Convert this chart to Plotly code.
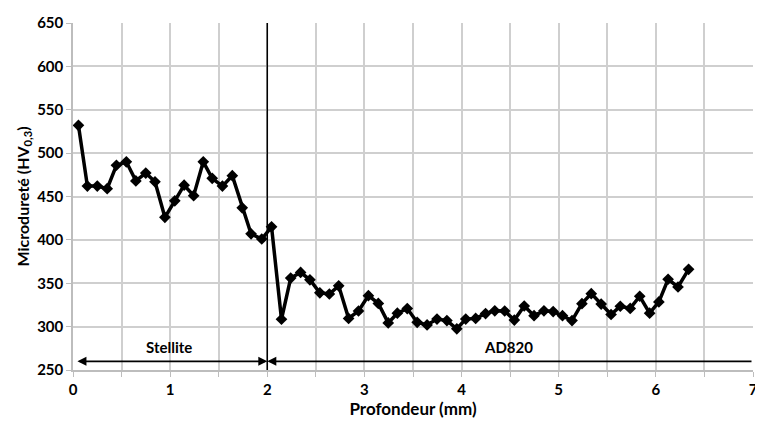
import plotly.graph_objects as go

# profondeur (mm) et microdureté HV0,3
profondeur = [0.056, 0.148, 0.25, 0.352, 0.447, 0.549, 0.647, 0.749, 0.844, 0.946,
              1.048, 1.144, 1.242, 1.341, 1.433, 1.538, 1.64, 1.742, 1.833, 1.943,
              2.044, 2.146, 2.241, 2.343, 2.439, 2.541, 2.639, 2.735, 2.837, 2.939,
              3.041, 3.143, 3.245, 3.339, 3.441, 3.543, 3.645, 3.747, 3.849, 3.951,
              4.043, 4.145, 4.247, 4.342, 4.444, 4.543, 4.645, 4.746, 4.848, 4.943,
              5.039, 5.137, 5.239, 5.335, 5.437, 5.539, 5.634, 5.736, 5.834, 5.936,
              6.031, 6.126, 6.228, 6.337]
durete = [532, 462, 462, 459, 486, 490, 468, 477, 467, 426,
          445, 463, 451, 490, 471, 462, 474, 437, 407, 401,
          415, 308.5, 356, 362.5, 354, 339, 337.6, 347, 309.5, 318,
          335.7, 326.7, 304.3, 315.5, 320.8, 305, 302, 308.7, 307, 297.5,
          308.7, 309.5, 315, 318.2, 318, 307.6, 323.8, 312.6, 318.2, 317.4,
          312.6, 307, 326.5, 338, 326, 314, 323.5, 321, 335, 315.5,
          328.5, 354.6, 345.7, 366]

zones = ["Stellite", "AD820"]
zone_x = [0.99, 4.48]
interface = 2.0

font = "Lato, 'Open Sans', sans-serif"

fig = go.Figure()
fig.add_trace(go.Scatter(
    x=profondeur, y=durete, mode="lines+markers",
    line=dict(color="black", width=3.5),
    marker=dict(symbol="diamond", size=9, color="black"),
    showlegend=False,
))

# interface
fig.add_shape(type="line", x0=interface, x1=interface, y0=250, y1=650,
              xref="x", yref="y", line=dict(color="black", width=1.5))

# flèches des zones
fig.add_annotation(x=interface, y=260, ax=0.03, ay=260, xref="x", yref="y",
                   axref="x", ayref="y", text="", showarrow=True,
                   arrowhead=2, startarrowhead=2, arrowside="end+start",
                   arrowwidth=1.8, arrowsize=1, startarrowsize=1, arrowcolor="black")
fig.add_annotation(x=interface, y=260, ax=7, ay=260, xref="x", yref="y",
                   axref="x", ayref="y", text="", showarrow=True,
                   arrowhead=2, arrowwidth=1.8, arrowsize=1, arrowcolor="black")
for z, zx in zip(zones, zone_x):
    fig.add_annotation(x=zx, y=277, xref="x", yref="y", text=z, showarrow=False,
                       font=dict(family=font, size=15, color="black", weight="bold"))

# la page ajoute une marge de 8 px autour du graphique
fig.update_layout(
    width=755, height=420,
    margin=dict(l=65, r=6, t=5, b=58),
    plot_bgcolor="white", paper_bgcolor="white",
    font=dict(family=font, color="black"),
    xaxis=dict(
        range=[0, 7], dtick=1, showgrid=True, gridcolor="#cfcfcf", gridwidth=1.5,
        minor=dict(dtick=0.5, showgrid=True, gridcolor="#cfcfcf", gridwidth=1.5,
                   ticks="outside", ticklen=5, tickcolor="#bdbdbd"),
        ticks="outside", ticklen=5, tickcolor="#bdbdbd",
        showline=True, linecolor="#bdbdbd", linewidth=1.5, zeroline=False,
        tickfont=dict(size=15, weight="bold"), ticklabeloverflow="allow",
        title=dict(text="Profondeur (mm)", font=dict(size=17, weight="bold"), standoff=6),
    ),
    yaxis=dict(
        range=[250, 650], dtick=50, showgrid=True, gridcolor="#cfcfcf", gridwidth=1.5,
        ticks="outside", ticklen=5, tickcolor="#bdbdbd",
        showline=True, linecolor="#bdbdbd", linewidth=1.5, zeroline=False,
        tickfont=dict(size=15, weight="bold"), ticklabeloverflow="allow",
        title=dict(text="Microdureté (HV<sub>0,3</sub>)", font=dict(size=16, weight="bold"), standoff=4),
    ),
)

fig.write_html("out.html")
